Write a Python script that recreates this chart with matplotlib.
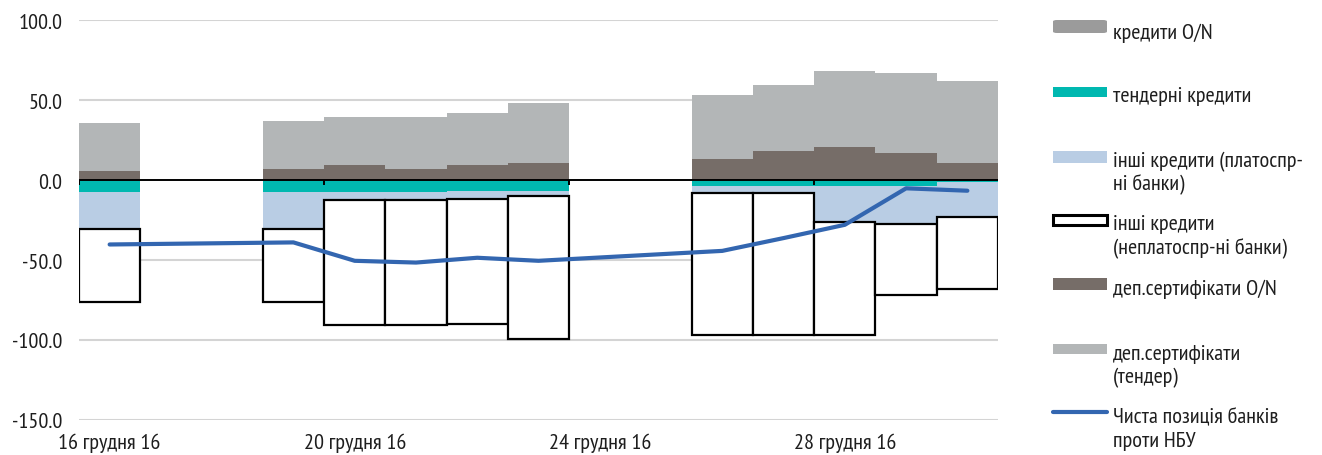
import matplotlib
matplotlib.use('Agg')
import matplotlib.pyplot as plt
import matplotlib.dates as mdates
from matplotlib.patches import Rectangle, FancyBboxPatch
from matplotlib.lines import Line2D
import numpy as np
import pandas as pd

# ---- data (UAH bn) ----
dates = ['2016-12-16', '2016-12-19', '2016-12-20', '2016-12-21', '2016-12-22',
         '2016-12-23', '2016-12-26', '2016-12-27', '2016-12-28', '2016-12-29',
         '2016-12-30']
on_loans = [0, 0, 0, 0, 0, 0, 0, 0, 0, 0, 0]
dep_cert_on = [5.6, 6.9, 9.4, 6.9, 9.4, 10.6, 13.1, 18.2, 20.7, 16.9, 10.6]
dep_cert_tender = [30.1, 30.1, 30.1, 32.6, 32.6, 37.6, 40.1, 41.3, 47.4, 49.9, 51.2]
tender_loans = [-7.5, -7.5, -7.5, -7.5, -7.0, -6.6, -3.6, -3.6, -3.6, -3.6, -1.0]
other_solvent = [-23.2, -23.2, -5.0, -5.0, -5.0, -3.2, -4.7, -4.7, -22.9, -23.9, -22.4]
other_insolvent = [-45.3, -45.3, -78.3, -78.3, -78.3, -89.8, -88.6, -88.6, -70.4, -44.5, -44.9]
net_position = [-40.3, -39.0, -50.5, -51.6, -48.6, -50.5, -44.3, -36.3, -28.0, -5.2, -6.7]

tick_dates = ['2016-12-16', '2016-12-20', '2016-12-24', '2016-12-28']
tick_labels = ['16 грудня 16', '20 грудня 16', '24 грудня 16', '28 грудня 16']
yticks = [-150, -100, -50, 0, 50, 100]

legend_labels = [
    'кредити O/N',
    'тендерні кредити',
    'інші кредити (платоспр-\nні банки)',
    'інші кредити\n(неплатоспр-ні банки)',
    'деп.сертифікати O/N',
    'деп.сертифікати\n(тендер)',
    'Чиста позиція банків\nпроти НБУ',
]

# ---- style ----
C_ON = '#9B9B9B'
C_TEAL = '#00B8B0'
C_LBLUE = '#B9CDE4'
C_BROWN = '#766D68'
C_LGRAY = '#B3B6B7'
C_LINE = '#3366B0'
C_GRID = '#D4D4D4'
C_TXT = '#1E1E1E'

plt.rcParams['font.family'] = ['PT Sans Narrow', 'Roboto Condensed', 'DejaVu Sans']
FS = 16

W, H = 1322, 456
fig = plt.figure(figsize=(W / 100, H / 100), dpi=100)
ax = fig.add_axes([79 / W, 35 / H, (998 - 79) / W, (421 - 21) / H])

x = mdates.date2num(pd.to_datetime(dates))
pos1 = np.array(dep_cert_on)
pos2 = np.array(dep_cert_tender)
n1 = np.array(tender_loans)
n2 = np.array(other_solvent)
n3 = np.array(other_insolvent)

ax.bar(x, pos1, width=1.0, color=C_BROWN, zorder=2, linewidth=0)
ax.bar(x, pos2, width=1.0, bottom=pos1, color=C_LGRAY, zorder=2, linewidth=0)
ax.bar(x, on_loans, width=1.0, bottom=pos1 + pos2, color=C_ON, zorder=2, linewidth=0)
ax.bar(x, n1, width=1.0, color=C_TEAL, zorder=2, linewidth=0)
ax.bar(x, n2, width=1.0, bottom=n1, color=C_LBLUE, zorder=2, linewidth=0)
ax.bar(x, n3, width=1.0, bottom=n1 + n2, color='white', edgecolor='black',
       linewidth=1.6, zorder=3)

ax.axhline(0, color='black', lw=1.4, zorder=4)
tx = mdates.date2num(pd.to_datetime(tick_dates))
ax.vlines(tx - 0.5, -3.2, 0, color='black', lw=1.4, zorder=4)

ax.plot(x, net_position, color=C_LINE, lw=3.0, zorder=5, solid_capstyle='round',
        solid_joinstyle='round')

ax.set_xlim(x[0] - 0.5, x[-1] + 0.5)
ax.set_ylim(-150, 100)
ax.set_yticks(yticks)
ax.set_yticklabels([f'{v:.1f}' for v in yticks], fontsize=FS, color=C_TXT)
ax.set_xticks(tx)
ax.set_xticklabels(tick_labels, fontsize=FS, color=C_TXT)
ax.tick_params(axis='both', length=0)
ax.tick_params(axis='y', pad=12)
ax.tick_params(axis='x', pad=9)
for v in yticks:
    if v != 0:
        ax.axhline(v, color=C_GRID, lw=1.5, zorder=1)
for s in ax.spines.values():
    s.set_visible(False)

# ---- legend (manual) ----
def fy(p):
    return 1 - p / H

px0, pw = 1053, 54
patches = [
    ('round', C_ON, 21, 13),
    ('rect', C_TEAL, 88, 10),
    ('rect', C_LBLUE, 152, 12),
    ('box', 'white', 216, 10),
    ('rect', C_BROWN, 279, 12),
    ('rect', C_LGRAY, 345, 10),
    ('line', C_LINE, 413, 0),
]
for kind, col, top, h in patches:
    if kind == 'round':
        fig.add_artist(FancyBboxPatch((px0 / W, fy(top + h)), pw / W, h / H,
                                      boxstyle='round,pad=0,rounding_size=0.003',
                                      transform=fig.transFigure, facecolor=col,
                                      edgecolor='none'))
    elif kind == 'rect':
        fig.add_artist(Rectangle((px0 / W, fy(top + h)), pw / W, h / H,
                                 transform=fig.transFigure, facecolor=col,
                                 edgecolor='none'))
    elif kind == 'box':
        fig.add_artist(Rectangle((px0 / W, fy(top + h)), pw / W, h / H,
                                 transform=fig.transFigure, facecolor='white',
                                 edgecolor='black', linewidth=2.2))
    else:
        fig.add_artist(Line2D([px0 / W, (px0 + pw) / W], [fy(top), fy(top)],
                              transform=fig.transFigure, color=col, lw=3.0,
                              solid_capstyle='round'))

baselines = [[39], [102], [167, 190], [230, 254], [295], [360, 383], [423, 447]]
for lab, bls in zip(legend_labels, baselines):
    for line, b in zip(lab.split('\n'), bls):
        fig.text(1113 / W, fy(b), line, fontsize=FS, va='baseline', ha='left',
                 color=C_TXT)

fig.savefig('out.png', dpi=100)
